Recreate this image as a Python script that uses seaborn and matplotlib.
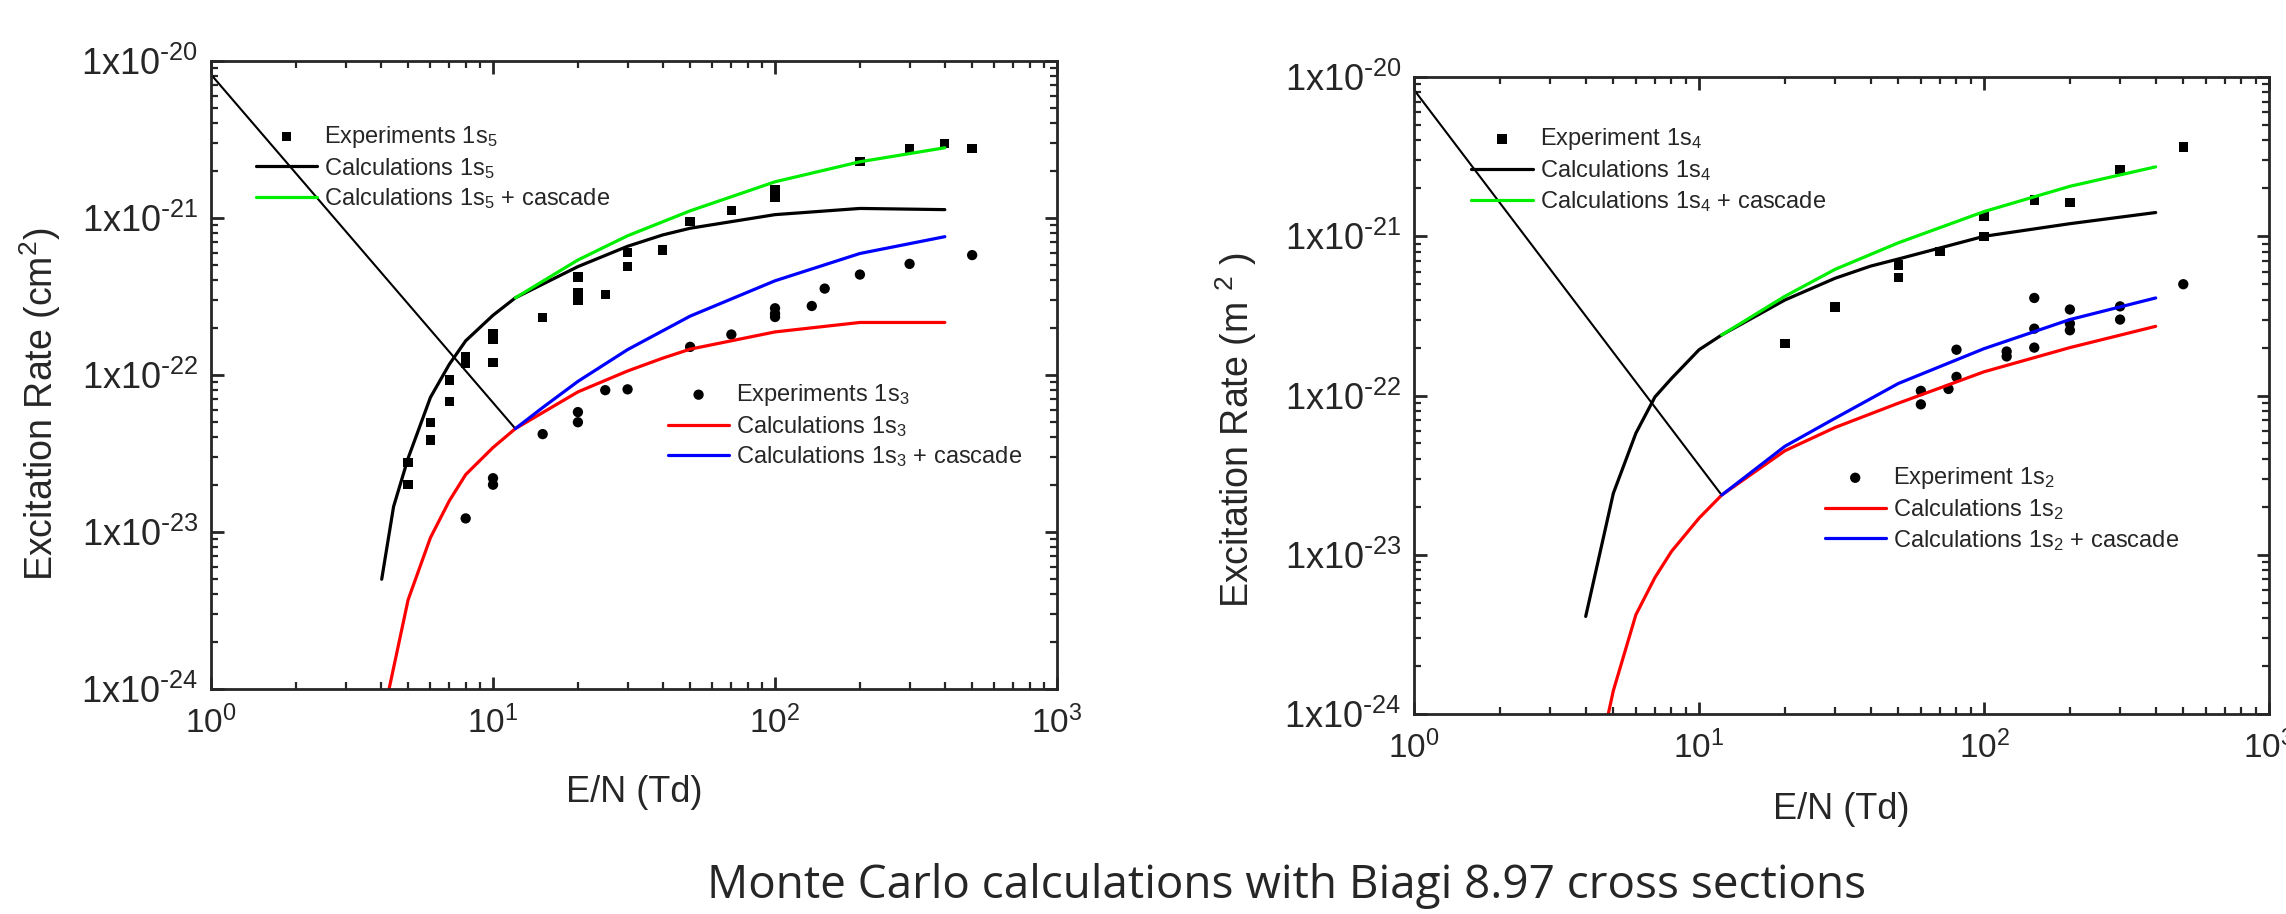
"""
Excitation rates vs E/N: experiments vs Monte Carlo calculations (Biagi 8.97)
"""

import numpy as np
import pandas as pd
import matplotlib
matplotlib.use("Agg")
import matplotlib.pyplot as plt
import matplotlib.ticker as mticker
import seaborn as sns

# ---- values ----

# left panel: 1s5 (squares, black/green) and 1s3 (circles, red/blue)
exp_1s5_en = [5, 5, 6, 6, 7, 7, 8, 8, 10, 10, 10, 15, 20, 20, 20, 25, 30, 30,
              40, 50, 70, 100, 100, 200, 300, 400, 500]
exp_1s5_rate = [2.77e-23, 2.0e-23, 5.0e-23, 3.85e-23, 9.3e-23, 6.8e-23, 1.30e-22,
                1.19e-22, 1.84e-22, 1.69e-22, 1.2e-22, 2.33e-22, 4.2e-22, 3.33e-22,
                3.0e-22, 3.24e-22, 6.0e-22, 4.9e-22, 6.25e-22, 9.46e-22, 1.12e-21,
                1.51e-21, 1.35e-21, 2.28e-21, 2.76e-21, 2.98e-21, 2.78e-21]

exp_1s3_en = [8, 10, 10, 15, 20, 20, 25, 30, 50, 70, 100, 100, 100, 135, 150,
              200, 300, 500]
exp_1s3_rate = [1.22e-23, 2.2e-23, 2.0e-23, 4.2e-23, 5.8e-23, 5.0e-23, 8.0e-23,
                8.1e-23, 1.51e-22, 1.81e-22, 2.66e-22, 2.46e-22, 2.34e-22,
                2.75e-22, 3.55e-22, 4.36e-22, 5.1e-22, 5.8e-22]

calc_1s5_en = [4.03, 4.44, 5, 6, 7, 8, 10, 12, 20, 30, 40, 50, 100, 200, 400]
calc_1s5_rate = [5.0e-24, 1.45e-23, 2.95e-23, 7.2e-23, 1.17e-22, 1.65e-22, 2.4e-22,
                 3.1e-22, 4.9e-22, 6.6e-22, 7.8e-22, 8.6e-22, 1.05e-21, 1.15e-21,
                 1.13e-21]

casc_1s5_en = [12, 20, 30, 50, 100, 200, 400]
casc_1s5_rate = [3.1e-22, 5.4e-22, 7.7e-22, 1.11e-21, 1.7e-21, 2.28e-21, 2.8e-21]

calc_1s3_en = [4.28, 5, 6, 7, 8, 10, 12, 20, 30, 40, 50, 100, 200, 400]
calc_1s3_rate = [1.0e-24, 3.7e-24, 9.2e-24, 1.58e-23, 2.32e-23, 3.45e-23, 4.55e-23,
                 7.8e-23, 1.06e-22, 1.28e-22, 1.46e-22, 1.88e-22, 2.16e-22, 2.16e-22]

casc_1s3_en = [12, 15, 20, 30, 50, 100, 200, 400]
casc_1s3_rate = [4.55e-23, 6.2e-23, 9.1e-23, 1.45e-22, 2.37e-22, 3.98e-22, 5.94e-22,
                 7.6e-22]

# stray straight segment drawn from E/N = 1 down to the cascade curve start
stray_left_en = [1, 12]
stray_left_rate = [8.2e-21, 4.55e-23]

# right panel: 1s4 (squares, black/green) and 1s2 (circles, red/blue)
exp_1s4_en = [20, 30, 50, 50, 70, 100, 100, 150, 200, 300, 500]
exp_1s4_rate = [2.12e-22, 3.6e-22, 6.6e-22, 5.5e-22, 8.0e-22, 1.0e-21, 1.33e-21,
                1.69e-21, 1.63e-21, 2.63e-21, 3.63e-21]

exp_1s2_en = [60, 60, 75, 80, 80, 120, 120, 150, 150, 150, 200, 200, 200, 300, 300,
              500]
exp_1s2_rate = [1.07e-22, 8.8e-23, 1.1e-22, 1.94e-22, 1.31e-22, 1.89e-22, 1.76e-22,
                4.1e-22, 2.63e-22, 2.0e-22, 3.47e-22, 2.83e-22, 2.57e-22, 3.63e-22,
                3.0e-22, 5.0e-22]

calc_1s4_en = [4.0, 5, 6, 7, 8, 10, 12, 20, 30, 40, 50, 100, 200, 400]
calc_1s4_rate = [4.1e-24, 2.43e-23, 5.8e-23, 9.8e-23, 1.28e-22, 1.94e-22, 2.4e-22,
                 3.98e-22, 5.45e-22, 6.5e-22, 7.2e-22, 1.0e-21, 1.2e-21, 1.41e-21]

casc_1s4_en = [12, 20, 30, 50, 100, 200, 400]
casc_1s4_rate = [2.4e-22, 4.2e-22, 6.2e-22, 9.1e-22, 1.43e-21, 2.06e-21, 2.73e-21]

calc_1s2_en = [4.8, 5, 6, 7, 8, 10, 12, 20, 30, 50, 100, 200, 400]
calc_1s2_rate = [1.0e-24, 1.4e-24, 4.2e-24, 7.2e-24, 1.05e-23, 1.7e-23, 2.37e-23,
                 4.5e-23, 6.3e-23, 8.95e-23, 1.41e-22, 2.0e-22, 2.72e-22]

casc_1s2_en = [12, 20, 30, 50, 100, 200, 400]
casc_1s2_rate = [2.37e-23, 4.8e-23, 7.2e-23, 1.19e-22, 1.97e-22, 3.0e-22, 4.1e-22]

stray_right_en = [1, 12]
stray_right_rate = [8.3e-21, 2.37e-23]

x_ticks = [1, 10, 100, 1000]
y_ticks = [1e-24, 1e-23, 1e-22, 1e-21, 1e-20]

# ---- style ----
sns.set_style("ticks")
plt.rcParams["font.family"] = ["Liberation Sans", "DejaVu Sans"]
plt.rcParams["mathtext.default"] = "regular"
plt.rcParams["axes.linewidth"] = 2.0

GREEN = "#00ee00"
RED = "#ff0000"
BLUE = "#0000ff"

fig = plt.figure(figsize=(22.86, 9.14), dpi=100)
ax_l = fig.add_axes([0.0923, 0.2462, 0.3701, 0.6871])
ax_r = fig.add_axes([0.6186, 0.2188, 0.3740, 0.6969])


def draw_panel(ax, exp_sq, exp_ci, calc_k, casc_g, calc_r, casc_b, stray, labels):
    sns.lineplot(x=stray[0], y=stray[1], ax=ax, color="black", lw=1.5,
                 sort=False, estimator=None)
    sns.scatterplot(x=exp_sq[0], y=exp_sq[1], ax=ax, marker="s", s=45,
                    color="black", edgecolor="none", label=labels[0])
    sns.lineplot(x=calc_k[0], y=calc_k[1], ax=ax, color="black", lw=2.3,
                 sort=False, estimator=None, label=labels[1])
    sns.lineplot(x=casc_g[0], y=casc_g[1], ax=ax, color=GREEN, lw=2.3,
                 sort=False, estimator=None, label=labels[2])
    sns.scatterplot(x=exp_ci[0], y=exp_ci[1], ax=ax, marker="o", s=55,
                    color="black", edgecolor="none", label=labels[3])
    sns.lineplot(x=calc_r[0], y=calc_r[1], ax=ax, color=RED, lw=2.3,
                 sort=False, estimator=None, label=labels[4])
    sns.lineplot(x=casc_b[0], y=casc_b[1], ax=ax, color=BLUE, lw=2.3,
                 sort=False, estimator=None, label=labels[5])

    ax.set_xscale("log")
    ax.set_yscale("log")
    ax.set_xlim(1, 1000)
    ax.set_ylim(1e-24, 1e-20)
    ax.set_xticks(x_ticks)
    ax.set_yticks(y_ticks)
    ax.xaxis.set_major_formatter(mticker.FuncFormatter(
        lambda v, p: r"10$^{%d}$" % round(np.log10(v))))
    ax.yaxis.set_major_formatter(mticker.FuncFormatter(
        lambda v, p: r"1x10$^{\text{-}%d}$" % -round(np.log10(v))))
    ax.xaxis.set_minor_locator(mticker.LogLocator(base=10, subs=np.arange(2, 10)))
    ax.yaxis.set_minor_locator(mticker.LogLocator(base=10, subs=np.arange(2, 10)))
    ax.xaxis.set_minor_formatter(mticker.NullFormatter())
    ax.yaxis.set_minor_formatter(mticker.NullFormatter())
    ax.tick_params(which="both", direction="in", top=True, right=True)
    ax.tick_params(which="major", length=9, width=2)
    ax.tick_params(which="minor", length=5, width=1.6)
    ax.tick_params(axis="y", which="major", labelsize=26, pad=9)
    ax.tick_params(axis="x", which="major", labelsize=24, pad=12)
    for sp in ax.spines.values():
        sp.set_visible(True)
        sp.set_linewidth(2)
    ax.set_xlabel("E/N (Td)", fontsize=26)

    handles, labs = ax.get_legend_handles_labels()
    return handles, labs


h, l = draw_panel(
    ax_l,
    (exp_1s5_en, exp_1s5_rate), (exp_1s3_en, exp_1s3_rate),
    (calc_1s5_en, calc_1s5_rate), (casc_1s5_en, casc_1s5_rate),
    (calc_1s3_en, calc_1s3_rate), (casc_1s3_en, casc_1s3_rate),
    (stray_left_en, stray_left_rate),
    ["Experiments 1s$_5$", "Calculations 1s$_5$", "Calculations 1s$_5$ + cascade",
     "Experiments 1s$_3$", "Calculations 1s$_3$", "Calculations 1s$_3$ + cascade"])
ax_l.set_ylabel("Excitation Rate (cm$^2$)", fontsize=27)
ax_l.yaxis.set_label_coords(-0.175, 0.454)
ax_l.xaxis.set_label_coords(0.5, -0.137)

leg_kw = dict(frameon=False, prop=dict(family="Liberation Sans", size=17),
              borderpad=0, borderaxespad=0,
              handlelength=2.6, handletextpad=0.3, labelspacing=0.25,
              scatterpoints=1, loc="upper left")
leg1 = ax_l.legend(h[:3], l[:3], bbox_to_anchor=(0.053, 0.90), **leg_kw)
ax_l.add_artist(leg1)
ax_l.legend(h[3:], l[3:], bbox_to_anchor=(0.540, 0.489), **leg_kw)

h, l = draw_panel(
    ax_r,
    (exp_1s4_en, exp_1s4_rate), (exp_1s2_en, exp_1s2_rate),
    (calc_1s4_en, calc_1s4_rate), (casc_1s4_en, casc_1s4_rate),
    (calc_1s2_en, calc_1s2_rate), (casc_1s2_en, casc_1s2_rate),
    (stray_right_en, stray_right_rate),
    ["Experiment 1s$_4$", "Calculations 1s$_4$", "Calculations 1s$_4$ + cascade",
     "Experiment 1s$_2$", "Calculations 1s$_2$", "Calculations 1s$_2$ + cascade"])
ax_r.set_ylabel("Excitation Rate (m $^2$ )", fontsize=27)
ax_r.yaxis.set_label_coords(-0.181, 0.446)
ax_r.xaxis.set_label_coords(0.5, -0.122)

leg3 = ax_r.legend(h[:3], l[:3], bbox_to_anchor=(0.067, 0.923), **leg_kw)
ax_r.add_artist(leg3)
ax_r.legend(h[3:], l[3:], bbox_to_anchor=(0.48, 0.391), **leg_kw)

fig.text(0.5626, 0.0175, "Monte Carlo calculations with Biagi 8.97 cross sections",
         ha="center", va="baseline", fontsize=33, family=["Open Sans", "DejaVu Sans"])

fig.savefig("out.png", dpi=100, facecolor="white")
